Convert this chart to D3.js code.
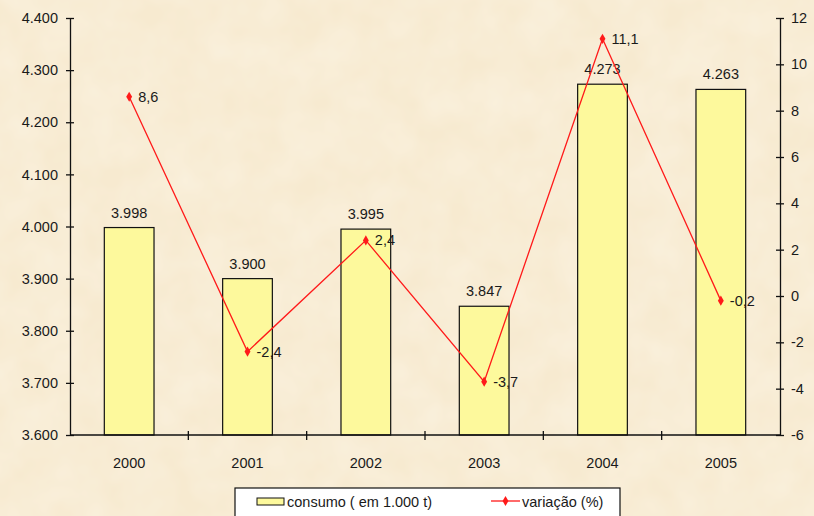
<!DOCTYPE html>
<html>
<head>
<meta charset="utf-8">
<script src="https://cdn.jsdelivr.net/npm/d3@7"></script>
<style>
  html, body { margin: 0; padding: 0; background: #f8ecd3; }
  svg { display: block; }
  text { font-family: "Liberation Sans", Arial, sans-serif; fill: #1a1a1a; }
</style>
</head>
<body>
<script>
// Consumo anual e variação percentual
const anos = ["2000", "2001", "2002", "2003", "2004", "2005"];
const consumo = [3998, 3900, 3995, 3847, 4273, 4263];
const variacao = [8.6, -2.4, 2.4, -3.7, 11.1, -0.2];
const ticksEsq = [3600, 3700, 3800, 3900, 4000, 4100, 4200, 4300, 4400];
const ticksDir = [-6, -4, -2, 0, 2, 4, 6, 8, 10, 12];

const W = 814, H = 516;
const m = { left: 70, right: 34, top: 18, bottom: 81 };
const FS = 14.5;

const svg = d3.select("body").append("svg").attr("width", W).attr("height", H);

// parchment background
const defs = svg.append("defs");
const f = defs.append("filter").attr("id", "paper").attr("x", 0).attr("y", 0).attr("width", "100%").attr("height", "100%");
f.append("feTurbulence").attr("type", "fractalNoise").attr("baseFrequency", 0.025).attr("numOctaves", 3).attr("seed", 7).attr("result", "n");
f.append("feColorMatrix").attr("in", "n").attr("type", "matrix")
  .attr("values", "0 0 0 0 0.99  0 0 0 0 0.95  0 0 0 0 0.86  0 0 0 0.55 -0.12");
svg.append("rect").attr("width", W).attr("height", H).attr("fill", "#f7ead0");
svg.append("rect").attr("width", W).attr("height", H).attr("filter", "url(#paper)");

const x0 = m.left, x1 = W - m.right, y0 = H - m.bottom, y1 = m.top;

const x = d3.scaleBand().domain(anos).range([x0, x1]).paddingInner(0.58).paddingOuter(0.29);
const xb = d3.scaleBand().domain(anos).range([x0, x1]);
const yL = d3.scaleLinear().domain([3600, 4400]).range([y0, y1]);
const yR = d3.scaleLinear().domain([-6, 12]).range([y0, y1]);

const loc = d3.formatLocale({ decimal: ",", thousands: ".", grouping: [3], currency: ["", ""], minus: "-" });
const fmtThousand = loc.format(",");
const fmtDec = loc.format(".1f");
const fmtInt = loc.format("d");

// bars
svg.append("g").selectAll("rect").data(anos).join("rect")
  .attr("x", d => x(d))
  .attr("y", (d, i) => yL(consumo[i]))
  .attr("width", x.bandwidth())
  .attr("height", (d, i) => y0 - yL(consumo[i]))
  .attr("fill", "#fdf99c")
  .attr("stroke", "#111")
  .attr("stroke-width", 1.2);

// bar value labels
svg.append("g").selectAll("text").data(anos).join("text")
  .attr("x", d => x(d) + x.bandwidth() / 2)
  .attr("y", (d, i) => yL(consumo[i]) - 10)
  .attr("text-anchor", "middle")
  .attr("font-size", FS)
  .text((d, i) => fmtThousand(consumo[i]));

// left axis
const axL = d3.axisLeft(yL).tickValues(ticksEsq).tickFormat(fmtThousand).tickSize(0).tickPadding(12);
const gL = svg.append("g").attr("transform", `translate(${x0},0)`).call(axL);
gL.select(".domain").attr("stroke", "#111").attr("stroke-width", 1.3);
gL.selectAll(".tick text").attr("font-size", FS).attr("fill", "#1a1a1a");
gL.selectAll(".tick").append("line").attr("x1", -4).attr("x2", 4).attr("stroke", "#111").attr("stroke-width", 1.3);

// right axis
const axR = d3.axisRight(yR).tickValues(ticksDir).tickFormat(fmtInt).tickSize(0).tickPadding(11);
const gR = svg.append("g").attr("transform", `translate(${x1},0)`).call(axR);
gR.select(".domain").attr("stroke", "#111").attr("stroke-width", 1.3);
gR.selectAll(".tick text").attr("font-size", FS).attr("fill", "#1a1a1a");
gR.selectAll(".tick").append("line").attr("x1", -4).attr("x2", 4).attr("stroke", "#111").attr("stroke-width", 1.3);

// bottom axis with ticks between categories
svg.append("line").attr("x1", x0).attr("x2", x1).attr("y1", y0).attr("y2", y0).attr("stroke", "#111").attr("stroke-width", 1.3);
svg.append("g").selectAll("line").data(anos.slice(1)).join("line")
  .attr("x1", d => xb(d)).attr("x2", d => xb(d))
  .attr("y1", y0 - 4).attr("y2", y0 + 5)
  .attr("stroke", "#111").attr("stroke-width", 1.3);
svg.append("g").selectAll("text").data(anos).join("text")
  .attr("x", d => xb(d) + xb.bandwidth() / 2)
  .attr("y", y0 + 33)
  .attr("text-anchor", "middle")
  .attr("font-size", FS)
  .text(d => d);

// variation line
const cx = d => xb(d) + xb.bandwidth() / 2;
const line = d3.line().x((d, i) => cx(anos[i])).y(d => yR(d));
svg.append("path").datum(variacao).attr("d", line)
  .attr("fill", "none").attr("stroke", "#ff1a1a").attr("stroke-width", 1.3);
svg.append("g").selectAll("path").data(variacao).join("path")
  .attr("d", d3.symbol(d3.symbolDiamond, 30))
  .attr("transform", (d, i) => `translate(${cx(anos[i])},${yR(d)})`)
  .attr("fill", "#ff1a1a");
svg.append("g").selectAll("text").data(variacao).join("text")
  .attr("x", (d, i) => cx(anos[i]) + 9)
  .attr("y", d => yR(d) + 5)
  .attr("font-size", FS)
  .text(d => fmtDec(d));

// legend
const lg = svg.append("g").attr("transform", "translate(235,488)");
lg.append("rect").attr("width", 385).attr("height", 40).attr("fill", "#ffffff").attr("stroke", "#111").attr("stroke-width", 1.2);
lg.append("rect").attr("x", 22).attr("y", 10).attr("width", 27).attr("height", 7).attr("fill", "#fdf99c").attr("stroke", "#111").attr("stroke-width", 1);
lg.append("text").attr("x", 52).attr("y", 19).attr("font-size", FS).text("consumo ( em 1.000 t)");
lg.append("line").attr("x1", 256).attr("x2", 285).attr("y1", 13).attr("y2", 13).attr("stroke", "#ff1a1a").attr("stroke-width", 1.3);
lg.append("path").attr("d", d3.symbol(d3.symbolDiamond, 30)).attr("transform", "translate(270.5,13)").attr("fill", "#ff1a1a");
lg.append("text").attr("x", 287).attr("y", 19).attr("font-size", FS).text("variação (%)");
</script>
</body>
</html>
